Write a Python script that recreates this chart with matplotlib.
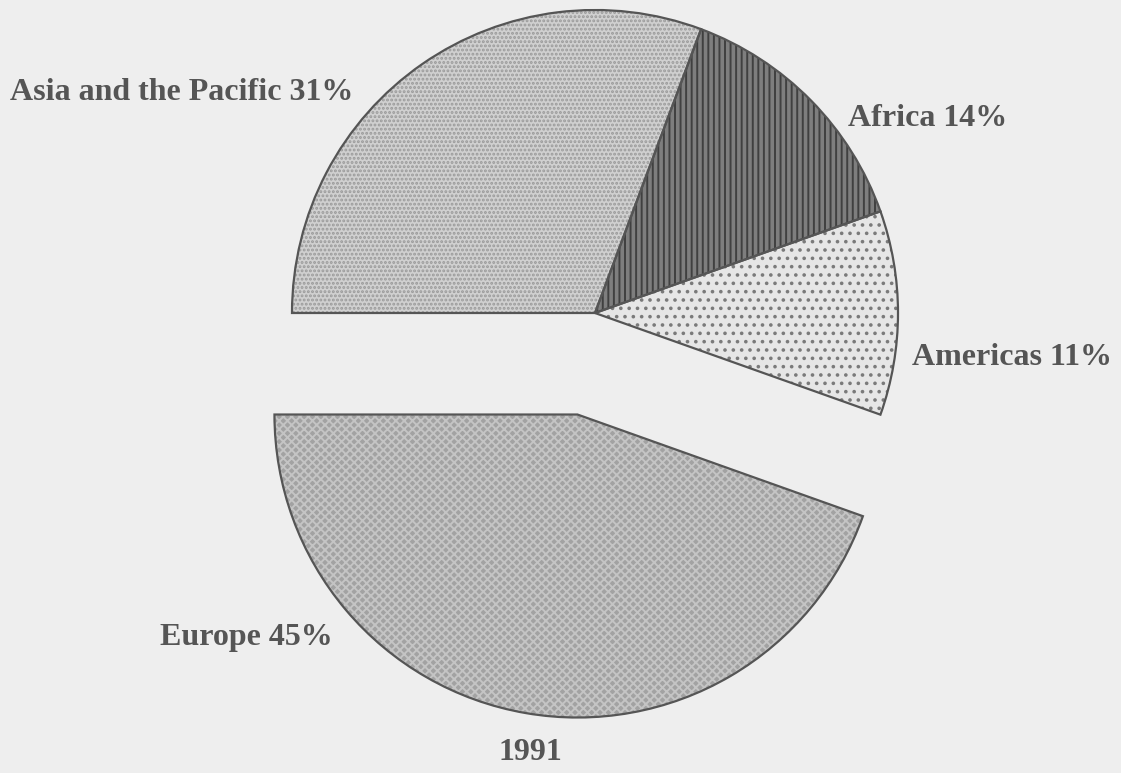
import matplotlib
matplotlib.use('Agg')
import matplotlib.pyplot as plt

# slice data (clockwise from the left, as in the scan)
regions = ['Asia and the Pacific', 'Africa', 'Americas', 'Europe']
shares = [31, 14, 11, 45]
year = '1991'

face_cols = ['#d0d0d0', '#7e7e7e', '#e6e6e6', '#a2a2a2']
hatch_cols = ['#9a9a9a', '#404040', '#7a7a7a', '#c4c4c4']
hatches = ['....', '|||', '..', 'xxxx']
explode = [0, 0, 0, 0.34]

W, H = 1121, 773
cx, cy, R = 595, 313, 303   # pie centre / radius in pixels


def px(x, y):
    # pixel (from top-left) -> data coords
    return (x - cx) / R, (cy - y) / R


plt.rcParams['hatch.linewidth'] = 1.4
fig = plt.figure(figsize=(W / 100, H / 100), dpi=100)
fig.patch.set_facecolor('#eeeeee')
ax = fig.add_axes([0, 0, 1, 1])
ax.set_facecolor('#eeeeee')

# fill + texture
wedges, _ = ax.pie(shares, colors=face_cols, startangle=180, counterclock=False,
                   explode=explode, wedgeprops=dict(linewidth=0))
for w, hc, ht in zip(wedges, hatch_cols, hatches):
    w.set_hatch(ht)
    w.set_edgecolor(hc)

# outlines
ax.pie(shares, startangle=180, counterclock=False, explode=explode,
       wedgeprops=dict(fill=False, linewidth=1.6, edgecolor='#555555'))

txt = dict(family='Liberation Serif', weight='bold', size=23, color='#555555',
           va='center')
labels = ['{} {}%'.format(r, s) for r, s in zip(regions, shares)]
ax.text(*px(10, 93), labels[0], ha='left', **txt)
ax.text(*px(848, 118), labels[1], ha='left', **txt)
ax.text(*px(912, 357), labels[2], ha='left', **txt)
ax.text(*px(160, 637), labels[3], ha='left', **txt)
ax.text(*px(530, 752), year, ha='center', **txt)

ax.set_aspect('auto')
ax.set_xlim(-cx / R, (W - cx) / R)
ax.set_ylim(-(H - cy) / R, cy / R)
ax.axis('off')

fig.savefig('out.png', dpi=100, facecolor=fig.get_facecolor())
